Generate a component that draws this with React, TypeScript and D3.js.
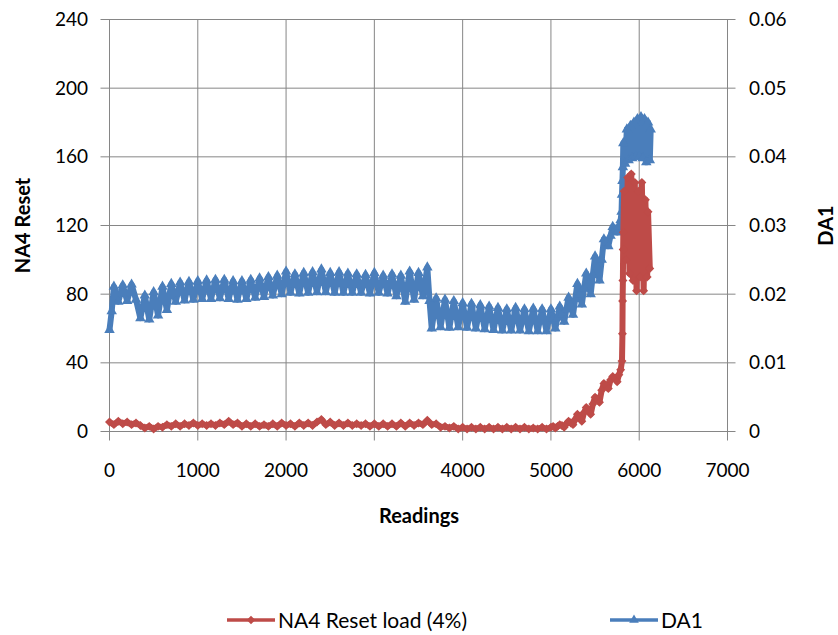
import React, { useRef, useEffect } from 'react';
import * as d3 from 'd3';

// [reading, NA4 Reset load (4%)] - left axis
const na4Points: [number, number][] = [
  [0, 5.5], [50, 4], [100, 6], [150, 4.5], [200, 5.5], [250, 4], [300, 5], [350, 3.5],
  [400, 2], [450, 3], [500, 1.5], [550, 3], [600, 2.5], [650, 4], [700, 3], [750, 4.5],
  [800, 3], [850, 4.5], [900, 3.5], [950, 5], [1000, 3.5], [1050, 4.5], [1100, 3.5], [1150, 4.5],
  [1200, 3.5], [1250, 5], [1300, 4], [1350, 6], [1400, 4], [1450, 5], [1500, 3], [1550, 4.5],
  [1600, 3], [1650, 4.5], [1700, 3], [1750, 4], [1800, 3], [1850, 4.5], [1900, 3], [1950, 5],
  [2000, 3.5], [2050, 4.5], [2100, 3], [2150, 5], [2200, 3.5], [2250, 5], [2300, 3.5], [2350, 5.5],
  [2400, 7], [2450, 4], [2500, 5.5], [2550, 3.5], [2600, 5], [2650, 3.5], [2700, 5], [2750, 3.5],
  [2800, 4.5], [2850, 3.5], [2900, 4.5], [2950, 3], [3000, 4.5], [3050, 3], [3100, 4.5], [3150, 3],
  [3200, 4.5], [3250, 3], [3300, 5], [3350, 3], [3400, 5], [3450, 3.5], [3500, 5], [3550, 4],
  [3600, 6.5], [3650, 4], [3700, 4.5], [3750, 2.5], [3800, 3], [3850, 2], [3900, 3], [3950, 1.5],
  [4000, 2.5], [4050, 1.5], [4100, 2.5], [4150, 1.5], [4200, 2.5], [4250, 1.5], [4300, 2.5], [4350, 1.5],
  [4400, 2.5], [4450, 1.5], [4500, 2.5], [4550, 1.5], [4600, 2.5], [4650, 1.5], [4700, 2.5], [4750, 1.5],
  [4800, 2], [4850, 1.5], [4900, 2.5], [4950, 1.5], [5000, 2.5], [5025, 3], [5050, 2], [5075, 3],
  [5100, 4], [5125, 3.5], [5150, 2.5], [5175, 4.5], [5200, 6], [5225, 5], [5250, 4], [5275, 7],
  [5300, 10], [5325, 8], [5350, 6], [5375, 11], [5400, 14], [5425, 12], [5450, 10], [5475, 16],
  [5500, 20], [5525, 19], [5550, 17], [5575, 24], [5600, 28], [5625, 27], [5650, 25], [5675, 30],
  [5700, 32], [5725, 31], [5750, 29], [5770, 33], [5790, 36], [5805, 41], [5810, 57], [5812, 76],
  [5815, 88], [5818, 106], [5820, 116], [5830, 140], [5850, 100], [5870, 148], [5890, 92], [5910, 150],
  [5930, 88], [5950, 145], [5970, 82], [5990, 140], [6010, 90], [6030, 145], [6050, 82], [6070, 135],
  [6090, 90], [6100, 128], [6120, 95],
];

// [reading, DA1] - right axis
const da1Points: [number, number][] = [
  [0, 0.0148], [25, 0.0175], [50, 0.0211], [100, 0.0189], [150, 0.0213], [200, 0.0190], [250, 0.0214], [300, 0.0192],
  [350, 0.0165], [400, 0.0198], [450, 0.0163], [500, 0.0203], [550, 0.0169], [600, 0.0211], [650, 0.0177], [700, 0.0215],
  [750, 0.0189], [800, 0.0217], [850, 0.0191], [900, 0.0218], [950, 0.0192], [1000, 0.0219], [1050, 0.0193], [1100, 0.0220],
  [1150, 0.0193], [1200, 0.0221], [1250, 0.0194], [1300, 0.0221], [1350, 0.0193], [1400, 0.0219], [1450, 0.0192], [1500, 0.0219],
  [1550, 0.0193], [1600, 0.0221], [1650, 0.0195], [1700, 0.0223], [1750, 0.0196], [1800, 0.0225], [1850, 0.0198], [1900, 0.0227],
  [1950, 0.0200], [2000, 0.0233], [2050, 0.0202], [2100, 0.0229], [2150, 0.0201], [2200, 0.0231], [2250, 0.0202], [2300, 0.0232],
  [2350, 0.0203], [2400, 0.0236], [2450, 0.0203], [2500, 0.0231], [2550, 0.0202], [2600, 0.0232], [2650, 0.0202], [2700, 0.0230],
  [2750, 0.0202], [2800, 0.0229], [2850, 0.0202], [2900, 0.0228], [2950, 0.0201], [3000, 0.0231], [3050, 0.0202], [3100, 0.0227],
  [3150, 0.0201], [3200, 0.0229], [3250, 0.0197], [3300, 0.0227], [3350, 0.0189], [3400, 0.0233], [3450, 0.0192], [3500, 0.0231],
  [3550, 0.0197], [3600, 0.0239], [3625, 0.0190], [3650, 0.0150], [3700, 0.0194], [3750, 0.0152], [3800, 0.0192], [3850, 0.0151],
  [3900, 0.0190], [3950, 0.0152], [4000, 0.0187], [4050, 0.0151], [4100, 0.0186], [4150, 0.0150], [4200, 0.0184], [4250, 0.0149],
  [4300, 0.0182], [4350, 0.0148], [4400, 0.0180], [4450, 0.0147], [4500, 0.0178], [4550, 0.0147], [4600, 0.0180], [4650, 0.0147],
  [4700, 0.0178], [4750, 0.0146], [4800, 0.0179], [4850, 0.0146], [4900, 0.0178], [4950, 0.0146], [5000, 0.0178], [5025, 0.0165],
  [5050, 0.0150], [5075, 0.0166], [5100, 0.0182], [5125, 0.0170], [5150, 0.0160], [5175, 0.0178], [5200, 0.0195], [5225, 0.0183],
  [5250, 0.0170], [5275, 0.0193], [5300, 0.0215], [5325, 0.0200], [5350, 0.0185], [5375, 0.0208], [5400, 0.0230], [5425, 0.0215],
  [5450, 0.0200], [5475, 0.0228], [5500, 0.0255], [5525, 0.0238], [5550, 0.0220], [5575, 0.0250], [5600, 0.0280], [5625, 0.0275],
  [5650, 0.0270], [5675, 0.0285], [5700, 0.0298], [5725, 0.0294], [5750, 0.0290], [5770, 0.0299], [5790, 0.0308], [5800, 0.0320],
  [5805, 0.0345], [5810, 0.0365], [5815, 0.0385], [5820, 0.0420], [5840, 0.0390], [5860, 0.0440], [5880, 0.0395], [5900, 0.0445],
  [5920, 0.0398], [5940, 0.0450], [5960, 0.0400], [5980, 0.0455], [6000, 0.0400], [6020, 0.0458], [6040, 0.0398], [6060, 0.0455],
  [6080, 0.0392], [6100, 0.0450], [6120, 0.0395], [6130, 0.0440],
];

const xTicks = [0, 1000, 2000, 3000, 4000, 5000, 6000, 7000];
const leftTicks = [0, 40, 80, 120, 160, 200, 240];
const rightTicks = [0, 0.01, 0.02, 0.03, 0.04, 0.05, 0.06];

const RED = '#BE4B48';
const BLUE = '#4A7EBB';
const GRID = '#868686';

export default function App() {
  const svgRef = useRef<SVGSVGElement>(null);

  useEffect(() => {
    const svg = d3.select(svgRef.current);
    svg.selectAll('*').remove();

    const width = 838;
    const height = 635;
    const margin = { top: 19.5, right: 110.5, bottom: 203.5, left: 109.5 };
    const font = 'Lato, "Open Sans", sans-serif';

    svg.attr('width', width).attr('height', height);
    svg.append('rect').attr('width', width).attr('height', height).attr('fill', 'white');

    const x = d3.scaleLinear().domain([0, 7000]).range([margin.left, width - margin.right]);
    const yL = d3.scaleLinear().domain([0, 240]).range([height - margin.bottom, margin.top]);
    const yR = d3.scaleLinear().domain([0, 0.06]).range([height - margin.bottom, margin.top]);

    // gridlines + tick marks
    const grid = svg.append('g').attr('stroke', GRID).attr('stroke-width', 1);
    leftTicks.forEach(t => {
      grid.append('line').attr('x1', x(0) - 9).attr('x2', x(7000) + 8).attr('y1', yL(t)).attr('y2', yL(t));
    });
    xTicks.forEach(t => {
      grid.append('line').attr('x1', x(t)).attr('x2', x(t)).attr('y1', yL(240)).attr('y2', yL(0) + 9);
    });

    // tick labels
    const tickText = svg.append('g').attr('font-family', font).attr('font-size', 19).attr('fill', '#000');
    leftTicks.forEach(t => {
      tickText.append('text').attr('x', 88).attr('y', yL(t) + 6.5).attr('text-anchor', 'end').text(t);
    });
    rightTicks.forEach(t => {
      tickText.append('text').attr('x', 749).attr('y', yR(t) + 6.5).text(t === 0 ? '0' : d3.format('.2f')(t));
    });
    xTicks.forEach(t => {
      tickText.append('text').attr('x', x(t)).attr('y', 477).attr('text-anchor', 'middle').text(t);
    });

    // axis titles
    svg.append('text')
      .attr('x', 419).attr('y', 523)
      .attr('text-anchor', 'middle')
      .attr('font-family', font).attr('font-weight', 'bold').attr('font-size', 20)
      .text('Readings');
    svg.append('text')
      .attr('transform', `translate(30, ${(yL(0) + yL(240)) / 2}) rotate(-90)`)
      .attr('text-anchor', 'middle')
      .attr('font-family', font).attr('font-weight', 'bold').attr('font-size', 20)
      .text('NA4 Reset');
    svg.append('text')
      .attr('transform', `translate(833, ${(yL(0) + yL(240)) / 2}) rotate(-90)`)
      .attr('text-anchor', 'middle')
      .attr('font-family', font).attr('font-weight', 'bold').attr('font-size', 20)
      .text('DA1');

    const triangle = d3.symbol().type(d3.symbolTriangle).size(48)();
    const diamond = d3.symbol().type(d3.symbolSquare).size(40)();
    const legendTriangle = d3.symbol().type(d3.symbolTriangle).size(40)();
    const legendDiamond = d3.symbol().type(d3.symbolSquare).size(36)();

    // DA1 series (dense readings drawn as a thick zigzag band)
    const lineR = d3.line<[number, number]>().x(d => x(d[0])).y(d => yR(d[1]));
    svg.append('path')
      .datum(da1Points)
      .attr('d', lineR)
      .attr('fill', 'none')
      .attr('stroke', BLUE)
      .attr('stroke-width', 6)
      .attr('stroke-linejoin', 'round');
    svg.append('g').selectAll('path')
      .data(da1Points)
      .enter()
      .append('path')
      .attr('d', triangle)
      .attr('transform', d => `translate(${x(d[0])},${yR(d[1])})`)
      .attr('fill', BLUE);

    // NA4 series
    const lineL = d3.line<[number, number]>().x(d => x(d[0])).y(d => yL(d[1]));
    svg.append('path')
      .datum(na4Points)
      .attr('d', lineL)
      .attr('fill', 'none')
      .attr('stroke', RED)
      .attr('stroke-width', 6)
      .attr('stroke-linejoin', 'round');
    svg.append('g').selectAll('path')
      .data(na4Points)
      .enter()
      .append('path')
      .attr('d', diamond)
      .attr('transform', d => `translate(${x(d[0])},${yL(d[1])}) rotate(45)`)
      .attr('fill', RED);

    // legend
    const legend = svg.append('g').attr('font-family', font).attr('font-size', 21);
    const items = [
      { label: 'NA4 Reset load (4%)', color: RED, marker: legendDiamond, rot: 45, x0: 227 },
      { label: 'DA1', color: BLUE, marker: legendTriangle, rot: 0, x0: 610 },
    ];
    items.forEach(it => {
      legend.append('line')
        .attr('x1', it.x0).attr('x2', it.x0 + 48)
        .attr('y1', 620).attr('y2', 620)
        .attr('stroke', it.color).attr('stroke-width', 3.5);
      legend.append('path')
        .attr('d', it.marker)
        .attr('transform', `translate(${it.x0 + 24},620) rotate(${it.rot})`)
        .attr('fill', it.color);
      legend.append('text')
        .attr('x', it.x0 + 51).attr('y', 628)
        .text(it.label);
    });
  }, []);

  return <svg ref={svgRef} style={{ position: 'absolute', left: 0, top: 0 }}></svg>;
}
